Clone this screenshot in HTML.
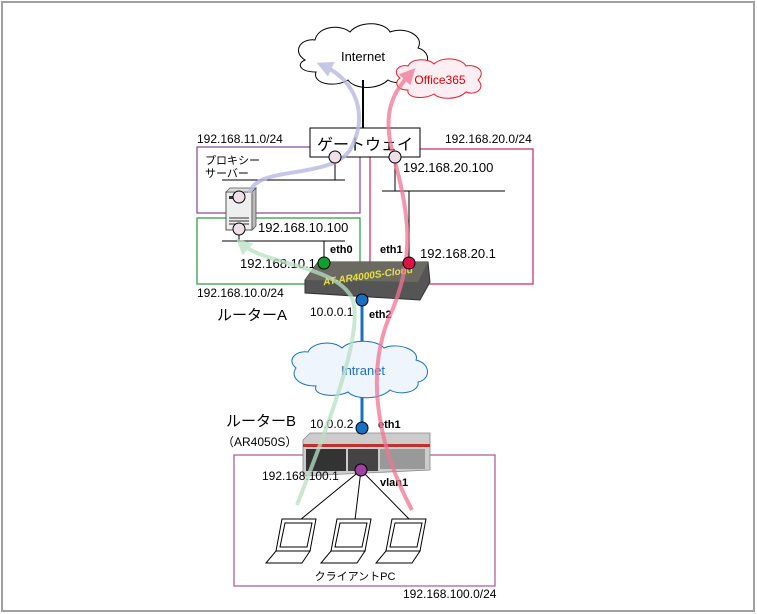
<!DOCTYPE html>
<html><head><meta charset="utf-8"><style>
html,body{margin:0;padding:0;background:#fff;}
svg{display:block;font-family:"Liberation Sans","Noto Sans CJK JP",sans-serif;}
</style></head><body>
<svg width="757" height="614" viewBox="0 0 757 614" xmlns="http://www.w3.org/2000/svg">
<defs>
<marker id="ap" markerWidth="4" markerHeight="4" refX="2" refY="2" orient="auto" markerUnits="strokeWidth"><path d="M0,0 L4,2 L0,4 Z" fill="#b9b8e0"/></marker>
<marker id="ag" markerWidth="4" markerHeight="4" refX="2" refY="2" orient="auto" markerUnits="strokeWidth"><path d="M0,0 L4,2 L0,4 Z" fill="#b8dfc4"/></marker>
<marker id="ar" markerWidth="4" markerHeight="4" refX="2" refY="2" orient="auto" markerUnits="strokeWidth"><path d="M0,0 L4,2 L0,4 Z" fill="#f07494"/></marker>
</defs>
<rect x="2" y="2" width="752" height="609" fill="#fff" stroke="#a0a0a0" stroke-width="2"/>

<path d="M305,60 C292,52 300,38 315,40 C318,26 340,24 350,32 C360,20 385,22 390,32 C405,26 425,36 418,48 C432,52 430,68 416,70 C418,82 398,86 388,80 C378,90 355,90 348,80 C335,88 312,84 316,72 C300,72 296,64 305,60 Z" fill="#fff" stroke="#000" stroke-width="1"/>
<text x="363" y="61" font-size="13" text-anchor="middle">Internet</text>
<line x1="363" y1="80" x2="363" y2="128" stroke="#000" stroke-width="2"/>

<path d="M400,78 C392,72 398,64 408,66 C412,58 428,58 434,64 C442,56 462,58 466,66 C478,64 486,72 478,80 C486,88 476,96 466,92 C458,100 440,100 434,94 C424,100 406,98 408,90 C396,90 394,82 400,78 Z" fill="#fdeef3" stroke="#e02030" stroke-width="1"/>
<text x="440" y="84" font-size="12" fill="#e00000" text-anchor="middle">Office365</text>

<rect x="197" y="147" width="163" height="66" fill="none" stroke="#9050a0" stroke-width="1.3"/>
<rect x="370" y="149" width="163" height="135" fill="none" stroke="#d8306a" stroke-width="1.3"/>
<rect x="197" y="218" width="163" height="66" fill="none" stroke="#30a050" stroke-width="1.3"/>
<rect x="234" y="455" width="261" height="131" fill="none" stroke="#b060a0" stroke-width="1.3"/>

<text x="197" y="143" font-size="12">192.168.11.0/24</text>
<text x="445" y="143" font-size="12">192.168.20.0/24</text>
<text x="197" y="297" font-size="12">192.168.10.0/24</text>
<text x="403" y="598" font-size="12">192.168.100.0/24</text>

<rect x="310" y="128" width="110" height="29" fill="#fff" stroke="#000" stroke-width="1"/>
<text x="365" y="150" font-size="16" text-anchor="middle">ゲートウェイ</text>

<line x1="222" y1="180" x2="345" y2="180" stroke="#000"/>
<line x1="335" y1="157" x2="335" y2="180" stroke="#000"/>
<line x1="382" y1="191" x2="505" y2="191" stroke="#000"/>
<line x1="395" y1="157" x2="395" y2="191" stroke="#000"/>
<line x1="409" y1="191" x2="409" y2="263" stroke="#000"/>
<line x1="222" y1="241" x2="345" y2="241" stroke="#000"/>
<line x1="239" y1="229" x2="239" y2="241" stroke="#000"/>
<line x1="324" y1="241" x2="324" y2="263" stroke="#000"/>

<text x="205" y="164" font-size="11">プロキシー</text>
<text x="205" y="177" font-size="11">サーバー</text>
<text x="403" y="172" font-size="13">192.168.20.100</text>
<text x="258" y="232" font-size="13">192.168.10.100</text>
<text x="240" y="268" font-size="13">192.168.10.1</text>
<text x="420" y="258" font-size="13">192.168.20.1</text>
<text x="330" y="253" font-size="11" font-weight="bold">eth0</text>
<text x="380" y="253" font-size="11" font-weight="bold">eth1</text>

<rect x="226" y="192" width="26" height="38" fill="#eee" stroke="#555"/>
<polygon points="226,192 230,188 256,188 252,192" fill="#ddd" stroke="#555" stroke-width="0.8"/>
<polygon points="252,192 256,188 256,226 252,230" fill="#bbb" stroke="#555" stroke-width="0.8"/>
<rect x="229" y="196" width="6" height="3" fill="#333"/>
<line x1="229" y1="218" x2="249" y2="218" stroke="#333"/>
<line x1="229" y1="221" x2="249" y2="221" stroke="#333"/>
<line x1="229" y1="224" x2="249" y2="224" stroke="#333"/>

<polygon points="305,280 318,262 428,262 430,282 420,300 305,293" fill="#555" stroke="#333"/>
<polygon points="305,280 318,262 428,262 418,282" fill="#6a6a60"/>
<text x="368" y="279" font-size="10" font-style="italic" font-weight="bold" fill="#e8e040" text-anchor="middle" transform="rotate(-8 368 276)">AT-AR4000S-Cloud</text>

<line x1="362" y1="300" x2="362" y2="345" stroke="#1a70c0" stroke-width="3"/>
<line x1="362" y1="392" x2="362" y2="428" stroke="#1a70c0" stroke-width="3"/>
<text x="310" y="316" font-size="12">10.0.0.1</text>
<text x="369" y="318" font-size="11" font-weight="bold">eth2</text>
<text x="217" y="320" font-size="15">ルーターA</text>

<path d="M296,368 C286,360 296,350 308,352 C312,342 334,340 342,348 C352,338 378,340 384,348 C398,342 420,350 416,360 C432,364 430,380 418,382 C420,392 400,396 390,390 C380,400 355,400 348,392 C336,398 312,396 316,386 C298,386 290,376 296,368 Z" fill="#eef5fc" stroke="#1a70c0" stroke-width="1"/>
<text x="363" y="375" font-size="13" fill="#1a70c0" text-anchor="middle">Intranet</text>

<text x="310" y="428" font-size="12">10.0.0.2</text>
<text x="378" y="428" font-size="11" font-weight="bold">eth1</text>
<text x="226" y="426" font-size="15">ルーターB</text>
<text x="222" y="446" font-size="12">（AR4050S）</text>

<polygon points="303,440 310,433 430,433 430,470 303,476" fill="#ccc" stroke="#888" stroke-width="0.8"/>
<rect x="303" y="444" width="127" height="3" fill="#c03030"/>
<rect x="306" y="449" width="40" height="22" fill="#333"/>
<rect x="348" y="449" width="30" height="22" fill="#444"/>
<rect x="380" y="449" width="45" height="20" fill="#999"/>

<text x="262" y="480" font-size="12">192.168.100.1</text>
<text x="380" y="486" font-size="11" font-weight="bold">vlan1</text>

<line x1="361" y1="470" x2="300" y2="520" stroke="#000"/>
<line x1="361" y1="470" x2="355" y2="520" stroke="#000"/>
<line x1="361" y1="470" x2="410" y2="520" stroke="#000"/>

<g fill="#fff" stroke="#000" stroke-width="1">
<g transform="translate(266,519)"><polygon points="16,0 50,0 44,32 10,32"/><polygon points="19,4 46,4 41,28 14,28"/><polygon points="10,32 44,32 36,44 0,44"/></g>
<g transform="translate(321,519)"><polygon points="16,0 50,0 44,32 10,32"/><polygon points="19,4 46,4 41,28 14,28"/><polygon points="10,32 44,32 36,44 0,44"/></g>
<g transform="translate(376,519)"><polygon points="16,0 50,0 44,32 10,32"/><polygon points="19,4 46,4 41,28 14,28"/><polygon points="10,32 44,32 36,44 0,44"/></g>
</g>
<text x="355" y="580" font-size="11" text-anchor="middle">クライアントPC</text>

<path d="M250,193 C255,165 330,180 350,150 C370,115 355,80 324,66" fill="none" stroke="#b9b8e0" stroke-width="4" opacity="0.8" marker-end="url(#ap)"/>
<path d="M297,505 C330,420 365,330 352,298 C335,265 265,265 242,244" fill="none" stroke="#b8dfc4" stroke-width="4" opacity="0.75" marker-end="url(#ag)"/>
<path d="M412,510 C380,450 365,380 388,320 C418,255 408,210 392,150 C382,110 395,90 410,74" fill="none" stroke="#f07494" stroke-width="4" opacity="0.75" marker-end="url(#ar)"/>

<g stroke="#000" stroke-width="1">
<circle cx="335" cy="157" r="6" fill="#eee0e8"/>
<circle cx="395" cy="157" r="6" fill="#eee0e8"/>
<circle cx="239" cy="197" r="6" fill="#eee0e8"/>
<circle cx="239" cy="229" r="6" fill="#eee0e8"/>
<circle cx="324" cy="263" r="6" fill="#10a030"/>
<circle cx="409" cy="263" r="6" fill="#e0104a"/>
<circle cx="362" cy="300" r="6" fill="#1a70c0"/>
<circle cx="362" cy="428" r="6" fill="#1a70c0"/>
<circle cx="361" cy="470" r="6" fill="#a040a0"/>
</g>
</svg>
</body></html>
